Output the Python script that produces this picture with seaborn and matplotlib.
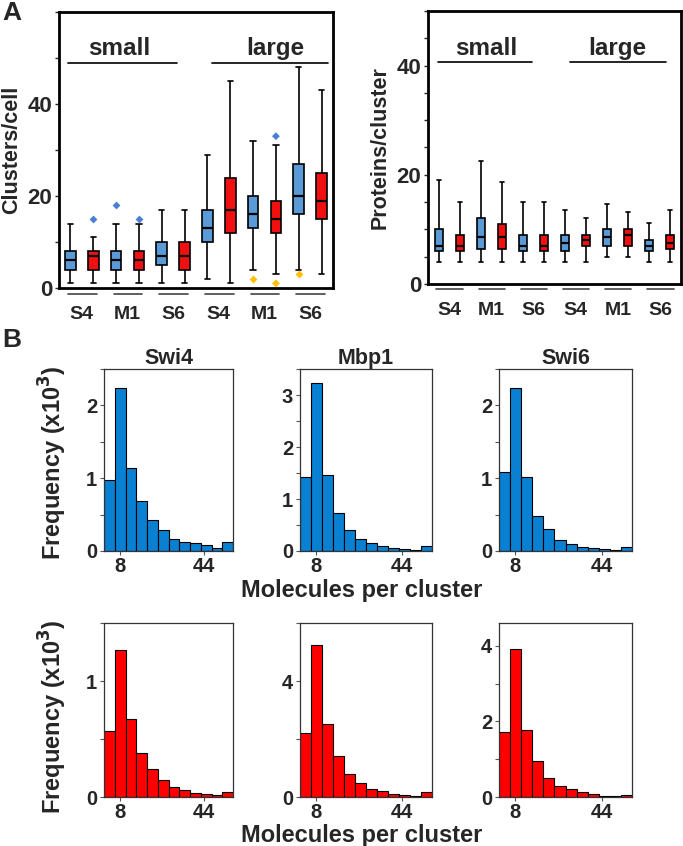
import numpy as np
import pandas as pd
import matplotlib.pyplot as plt
from matplotlib.ticker import MultipleLocator
import seaborn as sns

sns.set_style("ticks")
plt.rcParams['font.family'] = ['Liberation Sans', 'DejaVu Sans']
plt.rcParams['font.weight'] = 'bold'
plt.rcParams['axes.labelweight'] = 'bold'
plt.rcParams['axes.titleweight'] = 'bold'

# ---------------- panel A ----------------
pair_labels = ["S4", "M1", "S6", "S4", "M1", "S6"]
pair_sizes = ["small", "small", "small", "large", "large", "large"]
channels = ["blue", "red"]

# five-number summaries per box (blue/red for each pair, left to right)
clusters_lo = [1, 1, 1, 1, 1, 1, 2, 1, 4, 3, 4, 3]
clusters_q1 = [4, 4, 4, 4, 5, 4, 10, 12, 13, 12, 16, 15]
clusters_med = [6, 7, 6, 6, 7, 7, 13, 17, 16, 15, 20, 19]
clusters_q3 = [8, 8, 8, 8, 10, 10, 17, 24, 20, 19, 27, 25]
clusters_hi = [14, 11, 14, 14, 17, 17, 29, 45, 32, 31, 48, 43]
clusters_out_box = [1, 2, 3, 9, 8, 9, 10]
clusters_out_val = [15, 18, 15, 33, 2, 1, 3]
clusters_out_side = ["high", "high", "high", "high", "low", "low", "low"]

proteins_lo = [4.1, 4, 4, 4, 4, 4, 4, 4, 5, 5, 4, 4]
proteins_q1 = [6, 6, 6.5, 6.5, 6, 6, 6, 7, 7, 7, 6, 6.5]
proteins_med = [7, 7, 8.6, 8.6, 7, 7, 7.6, 8.1, 8.6, 9, 7, 7.6]
proteins_q3 = [10, 9, 12, 11, 9, 9, 9, 9, 10, 10, 8.1, 9]
proteins_hi = [19.1, 15.1, 22.6, 18.6, 15.1, 15.1, 13.6, 12, 14.6, 13.1, 11.1, 13.6]

# ---------------- panel B ----------------
bin_edges = [1.2, 5.8, 10.4, 15.0, 19.6, 24.2, 28.8, 33.4, 38.0, 42.6, 47.2, 51.8, 56.4]
proteins = ["Swi4", "Mbp1", "Swi6"]
swi4_blue = [0.98, 2.24, 1.14, 0.69, 0.42, 0.29, 0.17, 0.13, 0.105, 0.08, 0.046, 0.12]
mbp1_blue = [1.42, 3.24, 1.47, 0.73, 0.40, 0.24, 0.15, 0.09, 0.06, 0.04, 0.02, 0.09]
swi6_blue = [1.08, 2.24, 1.01, 0.48, 0.30, 0.15, 0.09, 0.06, 0.04, 0.027, 0.018, 0.06]
swi4_red = [0.57, 1.27, 0.67, 0.38, 0.24, 0.145, 0.087, 0.064, 0.038, 0.029, 0.02, 0.04]
mbp1_red = [2.22, 5.24, 2.51, 1.41, 0.79, 0.47, 0.29, 0.19, 0.11, 0.07, 0.035, 0.18]
swi6_red = [1.72, 3.92, 1.77, 0.95, 0.49, 0.29, 0.21, 0.12, 0.07, 0.036, 0.03, 0.06]

box_colors = {"blue": "#5a9ad6", "red": "#f01010"}
out_colors = {"high": "#4a7fd6", "low": "#ffc000"}
hist_blue = "#0a80d2"
hist_red = "#ff0000"

box_ids = [f"{p}-{s}-{c}" for p, s in zip(pair_labels, pair_sizes) for c in channels]
box_chan = [c for _ in pair_labels for c in channels]


def box_frame(lo, q1, med, q3, hi):
    # each box is given as its five-number summary; with whis=inf seaborn
    # draws exactly these quartiles and whisker ends
    rows = []
    for i, bid in enumerate(box_ids):
        for v in (lo[i], q1[i], med[i], q3[i], hi[i]):
            rows.append({"box": bid, "channel": box_chan[i], "value": v})
    return pd.DataFrame(rows)


def draw_boxes(ax, df, width, ylim, minor, ylabel):
    sns.boxplot(data=df, x="box", y="value", hue="channel", order=box_ids,
                hue_order=channels, palette=box_colors, dodge=False,
                saturation=1, whis=np.inf, width=width, linecolor="black",
                linewidth=1.2, legend=False, ax=ax,
                medianprops={"linewidth": 1.6})
    ax.set_xlim(-0.5, len(box_ids) - 0.5)
    ax.set_ylim(*ylim)
    ax.set_yticks([0, 20, 40])
    ax.yaxis.set_minor_locator(MultipleLocator(minor))
    ax.set_xticks([2 * k + 0.5 for k in range(len(pair_labels))])
    ax.set_xticklabels(pair_labels, fontsize=14)
    ax.tick_params(axis="x", length=0, pad=13)
    ax.tick_params(axis="y", which="both", direction="out", length=3,
                   width=1, labelsize=16, pad=2)
    ax.set_xlabel("")
    ax.set_ylabel(ylabel, fontsize=15.5, labelpad=4)
    for sp in ax.spines.values():
        sp.set_visible(True)
        sp.set_linewidth(2)
        sp.set_color("black")
    trans = ax.get_xaxis_transform()
    for k in range(len(pair_labels)):
        ax.plot([2 * k - 0.1, 2 * k + 1.15], [-0.02, -0.02], transform=trans,
                clip_on=False, color="#444444", lw=1.2)


fig = plt.figure(figsize=(6.83, 8.46), dpi=100)
W, H = 683, 846


def px_axes(x0, y0, x1, y1):
    return fig.add_axes([x0 / W, 1 - y1 / H, (x1 - x0) / W, (y1 - y0) / H])


# --- A left: clusters per cell
axL = px_axes(59, 12, 333, 288)
draw_boxes(axL, box_frame(clusters_lo, clusters_q1, clusters_med, clusters_q3, clusters_hi),
           0.47, (0, 60), 10, "Clusters/cell")
out_df = pd.DataFrame({"box": [box_ids[i] for i in clusters_out_box],
                       "value": clusters_out_val, "side": clusters_out_side})
sns.stripplot(data=out_df, x="box", y="value", hue="side", order=box_ids,
              palette=out_colors, jitter=False, dodge=False, marker="D",
              size=4, linewidth=0, legend=False, ax=axL)
axL.set_xlim(-0.5, len(box_ids) - 0.5)
axL.set_xlabel("")
axL.set_xticks([2 * k + 0.5 for k in range(len(pair_labels))])
axL.set_xticklabels(pair_labels, fontsize=14)
axL.text(0.22, 0.866, "small", transform=axL.transAxes, ha="center", va="center", fontsize=17.5)
axL.text(0.79, 0.866, "large", transform=axL.transAxes, ha="center", va="center", fontsize=17.5)
axL.plot([0.033, 0.43], [0.815, 0.815], transform=axL.transAxes, color="black", lw=1.2)
axL.plot([0.56, 0.98], [0.815, 0.815], transform=axL.transAxes, color="black", lw=1.2)

# --- A right: proteins per cluster
axR = px_axes(428, 11, 681, 284)
draw_boxes(axR, box_frame(proteins_lo, proteins_q1, proteins_med, proteins_q3, proteins_hi),
           0.38, (0, 50), 5, "Proteins/cluster")
axR.text(0.23, 0.864, "small", transform=axR.transAxes, ha="center", va="center", fontsize=17.5)
axR.text(0.75, 0.864, "large", transform=axR.transAxes, ha="center", va="center", fontsize=17.5)
axR.plot([0.04, 0.41], [0.813, 0.813], transform=axR.transAxes, color="black", lw=1.2)
axR.plot([0.56, 0.94], [0.813, 0.813], transform=axR.transAxes, color="black", lw=1.2)

# --- B histograms
centers = [(a + b) / 2 for a, b in zip(bin_edges[:-1], bin_edges[1:])]
rows = [
    ([swi4_blue, mbp1_blue, swi6_blue], hist_blue, (369, 551),
     [(0, 2.5, [0, 1, 2], 0.5), (0, 3.5, [0, 1, 2, 3], 0.5), (0, 2.5, [0, 1, 2], 0.5)]),
    ([swi4_red, mbp1_red, swi6_red], hist_red, (623, 797),
     [(0, 1.5, [0, 1], 0.5), (0, 6, [0, 4], 2), (0, 4.6, [0, 2, 4], 1)]),
]
xs = [(104, 233), (300, 432), (499, 632)]
for r, (series, color, (ytop, ybot), yspec) in enumerate(rows):
    for j, heights in enumerate(series):
        ax = px_axes(xs[j][0], ytop, xs[j][1], ybot)
        sns.histplot(x=centers, weights=heights, bins=bin_edges, color=color,
                     alpha=1, edgecolor="black", linewidth=0.8, ax=ax)
        lo, hi, majors, minor = yspec[j]
        ax.set_xlim(bin_edges[0], bin_edges[-1])
        ax.set_ylim(lo, hi)
        ax.set_yticks(majors)
        ax.yaxis.set_minor_locator(MultipleLocator(minor))
        ax.set_xticks([8, 44])
        ax.tick_params(axis="both", which="both", direction="out", length=3,
                       width=0.8, color="#555555", labelsize=14.5, pad=2)
        ax.tick_params(axis="x", pad=1)
        ax.set_ylabel("")
        ax.set_xlabel("")
        for sp in ax.spines.values():
            sp.set_visible(True)
            sp.set_linewidth(0.9)
            sp.set_color("#333333")
        if r == 0:
            ax.set_title(proteins[j], fontsize=15.5, pad=3)

fig.text(53 / W, 1 - 463 / H, "Frequency (x10$^{\\mathbf{3}}$)", rotation=90,
         ha="center", va="center", fontsize=17)
fig.text(53 / W, 1 - 717 / H, "Frequency (x10$^{\\mathbf{3}}$)", rotation=90,
         ha="center", va="center", fontsize=17)
fig.text(362 / W, 1 - 591 / H, "Molecules per cluster", ha="center", va="center", fontsize=17)
fig.text(362 / W, 1 - 835 / H, "Molecules per cluster", ha="center", va="center", fontsize=17)

fig.text(2 / W, 1 - 13 / H, "A", ha="left", va="center", fontsize=19)
fig.text(2 / W, 1 - 340 / H, "B", ha="left", va="center", fontsize=19)

fig.savefig("out.png", dpi=100)
